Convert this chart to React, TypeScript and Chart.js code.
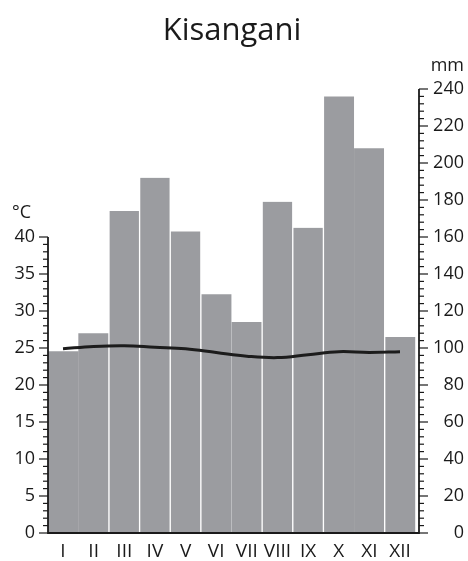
import React, { useEffect, useRef } from "react";
import { Chart, registerables } from "chart.js";

Chart.register(...registerables);

const TITLE = "Kisangani";
const MONTHS = ["I", "II", "III", "IV", "V", "VI", "VII", "VIII", "IX", "X", "XI", "XII"];
const PRECIP_MM = [98, 108, 174, 192, 163, 129, 114, 179, 165, 236, 208, 106];
const TEMP_C = [24.9, 25.2, 25.3, 25.1, 24.9, 24.4, 23.9, 23.7, 24.1, 24.5, 24.4, 24.5];
const T_LABEL_MAX = 40; // highest labelled °C tick
const T_MAX = 60; // °C equivalent of 240 mm
const P_MAX = 240;
const NO_GAP_AFTER = [0, 5, 9]; // bars that touch their right neighbour

const INK = "#1a1a1a";
const BAR = "#9b9ca0";
const FONT = "'Open Sans', 'Noto Sans', sans-serif";

const axesPlugin = {
  id: "climAxes",
  afterDatasetsDraw(chart: any) {
    const { ctx, chartArea: a, scales } = chart;
    const yT = scales.yT;
    const yP = scales.yP;
    const seg = (x1: number, y1: number, x2: number, y2: number) => {
      ctx.beginPath();
      ctx.moveTo(x1, y1);
      ctx.lineTo(x2, y2);
      ctx.stroke();
    };
    ctx.save();
    ctx.strokeStyle = INK;
    ctx.lineWidth = 1.8;
    seg(a.left, a.bottom, a.right, a.bottom);
    seg(a.left, a.bottom + 0.9, a.left, yT.getPixelForValue(T_LABEL_MAX));
    seg(a.right, a.bottom + 0.9, a.right, yP.getPixelForValue(P_MAX));
    ctx.lineWidth = 1.2;
    for (let v = 0; v <= T_LABEL_MAX; v += 1) {
      const y = yT.getPixelForValue(v);
      const len = v % 5 === 0 ? 9 : 5;
      seg(a.left - len, y, a.left, y);
    }
    for (let v = 0; v <= P_MAX; v += 4) {
      const y = yP.getPixelForValue(v);
      const len = v % 20 === 0 ? 9 : 5;
      seg(a.right, y, a.right + len, y);
    }
    ctx.fillStyle = INK;
    ctx.textBaseline = "alphabetic";
    ctx.font = `31px ${FONT}`;
    ctx.textAlign = "center";
    ctx.fillText(TITLE, 232, 40);
    ctx.font = `18px ${FONT}`;
    ctx.textAlign = "right";
    ctx.fillText("mm", 464, 71);
    ctx.textAlign = "left";
    ctx.fillText("°C", 12, 218);
    ctx.restore();
  },
};

export default function App() {
  const ref = useRef<HTMLCanvasElement | null>(null);

  useEffect(() => {
    if (!ref.current) return;
    Chart.defaults.font.family = FONT;
    const chart = new Chart(ref.current, {
      type: "bar",
      data: {
        datasets: [
          {
            type: "line",
            label: "Temperatur",
            data: TEMP_C.map((t, i) => ({ x: i, y: t })),
            yAxisID: "yT",
            xAxisID: "x",
            borderColor: "#1c1c1c",
            borderWidth: 3,
            pointRadius: 0,
            tension: 0.4,
            fill: false,
            order: 0,
          } as any,
          {
            type: "bar",
            label: "Niederschlag",
            data: PRECIP_MM.map((p, i) => ({ x: i, y: p })),
            yAxisID: "yP",
            xAxisID: "x",
            backgroundColor: BAR,
            borderColor: "#ffffff",
            borderWidth: (c: any) => {
              const i = c.dataIndex;
              return {
                left: i === 0 || NO_GAP_AFTER.includes(i - 1) ? 0 : 1,
                right: i === MONTHS.length - 1 || NO_GAP_AFTER.includes(i) ? 0 : 1,
                top: 0,
                bottom: 0,
              };
            },
            borderSkipped: false,
            categoryPercentage: 1,
            barPercentage: 1,
            order: 1,
          } as any,
        ],
      },
      options: {
        animation: false,
        responsive: false,
        maintainAspectRatio: false,
        layout: { padding: { top: 89, left: 0, right: 4, bottom: 0 } },
        plugins: {
          legend: { display: false },
          tooltip: { enabled: false },
          title: { display: false },
        },
        scales: {
          x: {
            type: "linear",
            position: "bottom",
            offset: false,
            min: -0.49,
            max: 11.62,
            grid: { display: false, drawTicks: false, offset: false },
            border: { display: false },
            ticks: {
              stepSize: 1,
              includeBounds: false,
              autoSkip: false,
              maxRotation: 0,
              padding: 7,
              color: INK,
              font: { size: 19, family: FONT },
              callback: (v: any) => {
                const n = Number(v);
                const i = Math.round(n);
                return Math.abs(n - i) < 1e-6 && i >= 0 && i < MONTHS.length ? MONTHS[i] : "";
              },
            },
            afterFit: (s: any) => {
              s.height = 28;
            },
          },
          yT: {
            type: "linear",
            position: "left",
            min: 0,
            max: T_MAX,
            grid: { display: false, drawTicks: false },
            border: { display: false },
            ticks: {
              stepSize: 5,
              padding: 13,
              color: INK,
              font: { size: 18, family: FONT },
              callback: (v: any) => (Number(v) <= T_LABEL_MAX ? String(v) : ""),
            },
            afterFit: (s: any) => {
              s.width = 48;
            },
          },
          yP: {
            type: "linear",
            position: "right",
            min: 0,
            max: P_MAX,
            grid: { display: false, drawTicks: false },
            border: { display: false },
            ticks: {
              stepSize: 20,
              crossAlign: "far",
              color: INK,
              font: { size: 18, family: FONT },
            },
            afterFit: (s: any) => {
              s.width = 45;
            },
          },
        },
      },
      plugins: [axesPlugin],
    });
    return () => chart.destroy();
  }, []);

  return (
    <div style={{ position: "fixed", left: 0, top: 0, width: 468, height: 561, background: "#fff" }}>
      <canvas ref={ref} width={468} height={561} style={{ width: 468, height: 561, display: "block" }} />
    </div>
  );
}
